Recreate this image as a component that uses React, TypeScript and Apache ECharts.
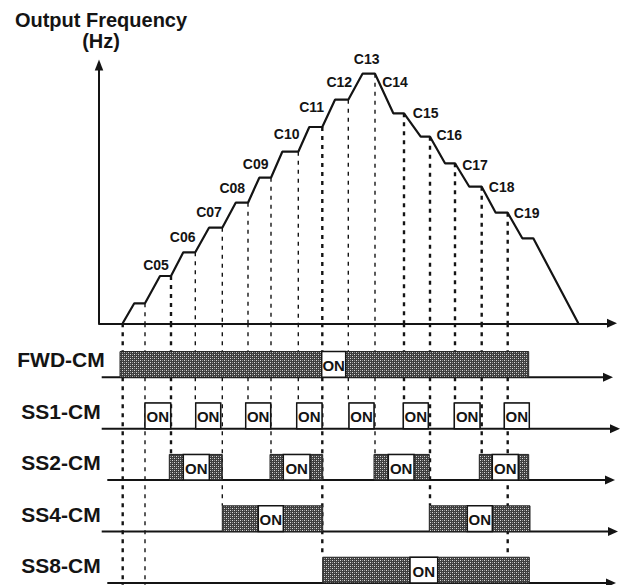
import React, { useEffect, useRef } from 'react';
import * as echarts from 'echarts';

// ---- Output frequency profile (time units, frequency units) ----
const freqTime = [23.7, 35.3, 46, 61, 72, 84.3, 96.3, 110, 123.3, 136.7, 149, 160.3, 172, 183.3, 199.3, 210.3, 223.3,
  236, 249.3, 263.5, 276, 294.3, 305, 321.7, 331, 346, 356, 370.3, 382.7, 396.7, 408.7, 423.3, 434.3, 479.3];
const freqValue = [0, 20, 20, 47.3, 47.3, 71, 71, 95.6, 95.6, 120.6, 120.6, 145.6, 145.6, 171.6, 171.6, 196.3, 196.3,
  223.6, 223.6, 249.6, 249.6, 210, 210, 186.6, 186.6, 160, 160, 136.6, 136.6, 110.6, 110.6, 85, 85, 0];

// ---- Multi-step speed names and the profile point each belongs to ----
const stepNames = ['C05', 'C06', 'C07', 'C08', 'C09', 'C10', 'C11', 'C12', 'C13', 'C14', 'C15', 'C16', 'C17', 'C18', 'C19'];
const stepPoint = [3, 5, 7, 9, 11, 13, 15, 17, 19, 20, 22, 24, 26, 28, 30];

// ---- Guide lines: profile point, lowest signal level reached (-1 = bottom), heavy dash ----
const guidePoint = [0, 2, 4, 6, 8, 10, 12, 14, 16, 18, 20, 22, 24, 26, 28, 30];
const guideEndLevel = [-1, -1, 2, 3, 1, 3, 2, 3, 0, 3, 2, 3, 1, 3, 2, 0];
const guideHeavy = [1, 0, 1, 0, 0, 0, 0, 0, 1, 0, 0, 1, 1, 1, 1, 1];

// ---- Control signals ----
const signalNames = ['FWD-CM', 'SS1-CM', 'SS2-CM', 'SS4-CM', 'SS8-CM'];
const signalLevel = [4, 3, 2, 1, 0];
const fwdOn = [[21, 429.7]];
const fwdOnLabel = [[222.7, 246.7]];
const ss1On = [[46, 71.7], [96.7, 121.7], [146.7, 171.7], [197.7, 223], [250, 275], [304.3, 329.3], [355.3, 381], [405.3, 430.3]];
const ss1OnLabel = ss1On;
const ss2On = [[70.3, 123.3], [171, 223.7], [275, 330.3], [380.3, 429.7]];
const ss2OnLabel = [[84.3, 110.3], [184.3, 211], [289.3, 315], [393.3, 419.3]];
const ss4On = [[123.3, 223.7], [330.3, 431]];
const ss4OnLabel = [[159.3, 184.3], [368.3, 393.3]];
const ss8On = [[223.7, 430.3]];
const ss8OnLabel = [[311, 338.7]];
const signalAxisStart = [2.7, 2.7, 8.3, 2.7, 8.3];
const signalAxisEnd = [514, 521, 516, 519, 517];

// ---- layout-only tweaks ----
const labelNudge = [[-4, -11], [-0.6, -15], [0, -16], [-3.4, -14.4], [-3.6, -13.7], [4.4, -17.7], [2.4, -19.7], [4.3, -18],
  [4.2, -14.4], [20, 8], [21.7, -0.6], [19.3, -1.7], [20, 1.7], [20, 0], [19, 0]];

function makePattern() {
  const c = document.createElement('canvas');
  c.width = 4; c.height = 4;
  const ctx = c.getContext('2d')!;
  ctx.fillStyle = '#3e3e3e'; ctx.fillRect(0, 0, 4, 4);
  ctx.fillStyle = '#dadada'; ctx.fillRect(0, 0, 1, 1); ctx.fillRect(2, 2, 1, 1);
  ctx.fillStyle = '#909090'; ctx.fillRect(2, 0, 1, 1); ctx.fillRect(0, 2, 1, 1);
  return c;
}

export default function App() {
  const ref = useRef<HTMLDivElement>(null);
  useEffect(() => {
    const chart = echarts.init(ref.current!, null, { renderer: 'svg', width: 621, height: 585 });
    const pattern = makePattern();
    const ink = '#141414';
    const fam = "'Liberation Sans', Arial, Helvetica, sans-serif";
    const pulseH = 0.5;
    const yMin = -0.04, yMax = 5.05;

    const signalOn = [fwdOn, ss1On, ss2On, ss4On, ss8On];
    const signalOnLabel = [fwdOnLabel, ss1OnLabel, ss2OnLabel, ss4OnLabel, ss8OnLabel];
    const pulseData: number[][] = [];
    const boxData: number[][] = [];
    signalOn.forEach((list, r) => list.forEach(([a, b]) => pulseData.push([a, b, signalLevel[r]])));
    signalOnLabel.forEach((list, r) => list.forEach(([a, b]) => boxData.push([a, b, signalLevel[r]])));

    const txt = (text: string, x: number, y: number, size: number) => ({
      type: 'text', x, y,
      style: { text, fill: ink, fontSize: size, fontWeight: 'bold', fontFamily: fam,
        align: 'center', verticalAlign: 'middle', textAlign: 'center', textVerticalAlign: 'middle' },
    });

    const option: any = {
      animation: false,
      backgroundColor: '#ffffff',
      grid: [
        { left: 99, top: 65, width: 513, height: 258.3, outerBoundsMode: 'none' },
        { left: 99, top: 323.3, width: 513, height: 261.7, outerBoundsMode: 'none' },
      ],
      xAxis: [
        { type: 'value', gridIndex: 0, min: 0, max: 513,
          axisLine: { show: true, symbol: ['none', 'triangle'], symbolSize: [9, 10], lineStyle: { color: ink, width: 2 } },
          axisTick: { show: false }, axisLabel: { show: false }, splitLine: { show: false } },
        { type: 'value', gridIndex: 1, min: 0, max: 513, show: false },
      ],
      yAxis: [
        { type: 'value', gridIndex: 0, min: 0, max: 258.3,
          axisLine: { show: true, symbol: ['none', 'triangle'], symbolSize: [8.5, 11], lineStyle: { color: ink, width: 2 } },
          axisTick: { show: false }, axisLabel: { show: false }, splitLine: { show: false } },
        { type: 'value', gridIndex: 1, min: yMin, max: yMax, show: false },
      ],
      graphic: [
        txt('Output Frequency', 101, 19.5, 20),
        txt('(Hz)', 101, 41, 20),
      ],
      series: [
        {
          type: 'custom', name: 'guides-upper', xAxisIndex: 0, yAxisIndex: 0, silent: true, z: 1,
          data: guidePoint.map((i, k) => [freqTime[i], freqValue[i], guideHeavy[k]]),
          renderItem: (params: any, api: any) => {
            const p0 = api.coord([api.value(0), api.value(1)]);
            const p1 = api.coord([api.value(0), 0]);
            const heavy = api.value(2) === 1;
            return { type: 'line', shape: { x1: p0[0], y1: p0[1], x2: p1[0], y2: p1[1] },
              style: { stroke: ink, lineWidth: heavy ? 2.4 : 1.4, lineDash: [4, 5] } };
          },
        },
        {
          type: 'line', name: 'Output Frequency', xAxisIndex: 0, yAxisIndex: 0, silent: true, z: 3,
          symbol: 'none', lineStyle: { color: ink, width: 2.2 },
          data: freqTime.map((t, i) => [t, freqValue[i]]),
        },
        {
          type: 'custom', name: 'step-labels', xAxisIndex: 0, yAxisIndex: 0, silent: true, z: 4,
          data: stepPoint.map(i => [freqTime[i], freqValue[i]]),
          renderItem: (params: any, api: any) => {
            const p = api.coord([api.value(0), api.value(1)]);
            const n = labelNudge[params.dataIndex];
            return txt(stepNames[params.dataIndex], p[0] + n[0], p[1] + n[1], 14);
          },
        },
        {
          type: 'custom', name: 'guides-lower', xAxisIndex: 1, yAxisIndex: 1, silent: true, z: 1,
          data: guidePoint.map((i, k) => [freqTime[i], guideEndLevel[k], guideHeavy[k]]),
          renderItem: (params: any, api: any) => {
            const t = api.value(0);
            const lvl = api.value(1);
            const p0 = api.coord([t, yMax]);
            const p1 = api.coord([t, lvl < 0 ? yMin : lvl + pulseH]);
            const heavy = api.value(2) === 1;
            return { type: 'line', shape: { x1: p0[0], y1: p0[1], x2: p1[0], y2: p1[1] },
              style: { stroke: ink, lineWidth: heavy ? 2.4 : 1.4, lineDash: [4, 5] } };
          },
        },
        {
          type: 'custom', name: 'signal-axes', xAxisIndex: 1, yAxisIndex: 1, silent: true, z: 2,
          data: signalLevel.map((l, r) => [signalAxisStart[r], l, signalAxisEnd[r]]),
          renderItem: (params: any, api: any) => {
            const a = api.coord([api.value(0), api.value(1)]);
            const b = api.coord([api.value(2), api.value(1)]);
            return { type: 'group', children: [
              { type: 'line', shape: { x1: a[0], y1: a[1], x2: b[0] - 8, y2: b[1] }, style: { stroke: ink, lineWidth: 2 } },
              { type: 'polygon', shape: { points: [[b[0], b[1]], [b[0] - 10, b[1] - 4.5], [b[0] - 10, b[1] + 4.5]] }, style: { fill: ink } },
            ] };
          },
        },
        {
          type: 'custom', name: 'signal-pulses', xAxisIndex: 1, yAxisIndex: 1, silent: true, z: 3,
          data: pulseData,
          renderItem: (params: any, api: any) => {
            const a = api.coord([api.value(0), api.value(2) + pulseH]);
            const b = api.coord([api.value(1), api.value(2)]);
            return { type: 'rect', shape: { x: a[0], y: a[1], width: b[0] - a[0], height: b[1] - a[1] },
              style: { fill: { image: pattern, repeat: 'repeat' }, stroke: '#222', lineWidth: 1 } };
          },
        },
        {
          type: 'custom', name: 'signal-on-boxes', xAxisIndex: 1, yAxisIndex: 1, silent: true, z: 4,
          data: boxData,
          renderItem: (params: any, api: any) => {
            const a = api.coord([api.value(0), api.value(2) + pulseH]);
            const b = api.coord([api.value(1), api.value(2)]);
            return { type: 'group', children: [
              { type: 'rect', shape: { x: a[0], y: a[1], width: b[0] - a[0], height: b[1] - a[1] },
                style: { fill: '#ffffff', stroke: ink, lineWidth: 1.5 } },
              txt('ON', (a[0] + b[0]) / 2, (a[1] + b[1]) / 2 + 1, 15),
            ] };
          },
        },
        {
          type: 'custom', name: 'signal-names', xAxisIndex: 1, yAxisIndex: 1, silent: true, z: 4,
          data: signalLevel.map(l => [0, l]),
          renderItem: (params: any, api: any) => {
            const p = api.coord([0, api.value(1)]);
            return txt(signalNames[params.dataIndex], p[0] - 38, p[1] - 17.5, 21);
          },
        },
      ],
    };
    chart.setOption(option);
    return () => chart.dispose();
  }, []);
  return <div ref={ref} style={{ position: 'fixed', left: 0, top: 0, width: 621, height: 585, background: '#fff' }} />;
}
